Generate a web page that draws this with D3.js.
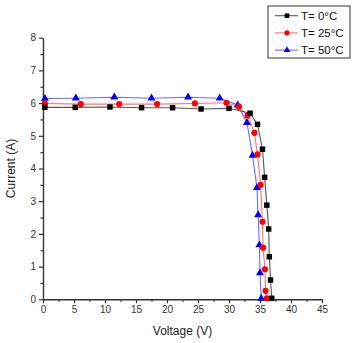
<!DOCTYPE html>
<html><head><meta charset="utf-8">
<script src="https://cdn.jsdelivr.net/npm/d3@7/dist/d3.min.js"></script>
<style>body{margin:0;background:#fff}svg{display:block;font-family:Arial,"Liberation Sans",sans-serif}</style>
</head><body><svg id="c" width="360" height="343"></svg>
<script>
const xTicks = [0,5,10,15,20,25,30,35,40,45];
const yTicks = [0,1,2,3,4,5,6,7,8];
const seriesNames = ["T= 0°C","T= 25°C","T= 50°C"];
const voltage0 = [0.3,5.2,10.8,15.9,20.9,25.5,30.0,33.4,34.6,35.4,35.75,36.1,36.4,36.5,36.7,36.9];
const current0 = [5.87,5.87,5.88,5.86,5.86,5.82,5.84,5.69,5.35,4.59,3.73,2.88,2.15,1.30,0.59,0.03];
const voltage25 = [0.3,6.1,12.3,18.4,24.5,29.6,31.6,33.0,34.1,34.6,35.1,35.4,35.5,35.8,35.9,36.1];
const current25 = [5.99,5.97,5.97,5.97,5.99,6.01,5.89,5.62,5.09,4.43,3.50,2.37,1.58,0.92,0.26,0.03];
const voltage50 = [0.3,5.3,11.5,17.5,23.4,28.5,31.4,32.9,33.8,34.5,34.7,34.9,35.0,35.2];
const current50 = [6.14,6.15,6.18,6.15,6.18,6.15,5.94,5.40,4.40,3.41,2.58,1.66,0.81,0.03];

const svg = d3.select("#c");
const m = {l:43, r:38, t:37.7, b:43.7};
const W = 360, H = 343;
const x = d3.scaleLinear().domain([0,45]).range([m.l, W-m.r]);
const y = d3.scaleLinear().domain([0,8]).range([H-m.b, m.t]);
const axisCol = "#333";

const xMinor = d3.range(2.5,45,5);
const yMinor = d3.range(0.5,8,1);
svg.append("g").attr("transform",`translate(0,${y(0)})`)
  .call(d3.axisBottom(x).tickValues(xMinor).tickSize(2.5).tickFormat(""))
  .call(g=>{g.select(".domain").remove();g.selectAll("line").attr("stroke",axisCol).attr("stroke-width",1.2);});
svg.append("g").attr("transform",`translate(${x(0)},0)`)
  .call(d3.axisLeft(y).tickValues(yMinor).tickSize(2.5).tickFormat(""))
  .call(g=>{g.select(".domain").remove();g.selectAll("line").attr("stroke",axisCol).attr("stroke-width",1.2);});

const gx = svg.append("g").attr("transform",`translate(0,${y(0)})`)
  .call(d3.axisBottom(x).tickValues(xTicks).tickSize(4).tickSizeOuter(0).tickPadding(3).tickFormat(d3.format("d")));
const gy = svg.append("g").attr("transform",`translate(${x(0)},0)`)
  .call(d3.axisLeft(y).tickValues(yTicks).tickSize(4).tickSizeOuter(0).tickPadding(3).tickFormat(d3.format("d")));
[gx,gy].forEach(g=>{
  g.select(".domain").attr("stroke",axisCol).attr("stroke-width",1.4);
  g.selectAll(".tick line").attr("stroke",axisCol).attr("stroke-width",1.2);
  g.selectAll(".tick text").attr("fill","#333").style("font-size","10px").attr("font-family","Arial, 'Liberation Sans', sans-serif");
});

svg.append("text").attr("x",(x(0)+x(45))/2).attr("y",335).attr("text-anchor","middle")
  .style("font-size","12px").attr("fill","#222").text("Voltage (V)");
svg.append("text").attr("transform",`translate(15,${(y(0)+y(8))/2}) rotate(-90)`).attr("text-anchor","middle")
  .style("font-size","12px").attr("fill","#222").text("Current (A)");

const series = [
  {name:seriesNames[0], v:voltage0, c:current0, line:"#555", fill:"#000", shape:d3.symbolSquare, size:30},
  {name:seriesNames[1], v:voltage25, c:current25, line:"#ff7070", fill:"#ff0000", shape:d3.symbolCircle, size:30},
  {name:seriesNames[2], v:voltage50, c:current50, line:"#6a6aff", fill:"#0000ff", shape:d3.symbolTriangle, size:28}
];
const line = d3.line().x(d=>x(d[0])).y(d=>y(d[1]));
[2,1,0].forEach(i=>{
  const s = series[i];
  const pts = s.v.map((v,k)=>[v,s.c[k]]);
  svg.append("path").datum(pts).attr("d",line).attr("fill","none").attr("stroke",s.line).attr("stroke-width",1.1);
});
[2,1,0].forEach(i=>{
  const s = series[i];
  const pts = s.v.map((v,k)=>[v,s.c[k]]);
  svg.append("g").selectAll("path").data(pts).join("path")
    .attr("transform",d=>`translate(${x(d[0])},${y(d[1])})`)
    .attr("d",d3.symbol().type(s.shape).size(s.size)).attr("fill",s.fill);
});

const lg = svg.append("g");
lg.append("rect").attr("x",268).attr("y",6).attr("width",82).attr("height",52)
  .attr("fill","#fff").attr("stroke","#333").attr("stroke-width",1);
series.forEach((s,i)=>{
  const yy = 15.7 + i*17.2;
  lg.append("line").attr("x1",275).attr("x2",298).attr("y1",yy).attr("y2",yy).attr("stroke",s.line).attr("stroke-width",1.1);
  lg.append("path").attr("transform",`translate(287,${yy})`).attr("d",d3.symbol().type(s.shape).size(s.size*0.7)).attr("fill",s.fill);
  lg.append("text").attr("x",301).attr("y",yy+4).style("font-size","11.5px").attr("fill","#111").text(s.name);
});
</script></body></html>
